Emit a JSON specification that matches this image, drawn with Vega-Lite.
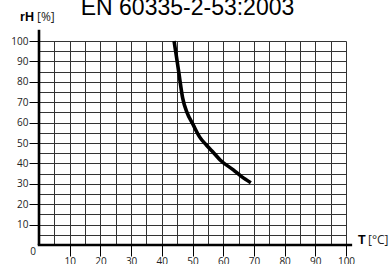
{
  "$schema": "https://vega.github.io/schema/vega-lite/v6.json",
  "autosize": {"type": "none"},
  "padding": {"left": 39, "top": 41, "right": 46, "bottom": 19},
  "width": 307,
  "height": 204,
  "background": "white",
  "config": {"view": {"stroke": null}},
  "resolve": {"axis": {"x": "independent", "y": "independent"}},
  "datasets": {
    "curve": [
      {"T": 44.0, "rH": 100},
      {"T": 45.5, "rH": 85},
      {"T": 46.8, "rH": 72},
      {"T": 48.2, "rH": 65},
      {"T": 50.2, "rH": 59},
      {"T": 52.3, "rH": 53},
      {"T": 54.5, "rH": 49},
      {"T": 57.0, "rH": 45},
      {"T": 59.0, "rH": 41.7},
      {"T": 63.3, "rH": 36.8},
      {"T": 66.0, "rH": 33.5},
      {"T": 69.0, "rH": 30.5}
    ]
  },
  "layer": [
    {
      "data": {"values": [{}]},
      "mark": {"type": "rule", "color": "black", "strokeWidth": 2.6},
      "encoding": {
        "x": {"datum": 0, "type": "quantitative", "scale": {"domain": [0, 100], "nice": false},
          "axis": {"orient": "bottom", "title": null, "values": [0,5,10,15,20,25,30,35,40,45,50,55,60,65,70,75,80,85,90,95,100],
            "grid": true, "gridColor": "#333", "gridWidth": 1, "gridOpacity": 1, "labels": false, "ticks": false, "domain": false}},
        "y": {"datum": 0, "type": "quantitative", "scale": {"domain": [0, 100], "nice": false},
          "axis": {"orient": "left", "title": null, "values": [0,5,10,15,20,25,30,35,40,45,50,55,60,65,70,75,80,85,90,95,100],
            "grid": true, "gridColor": "#333", "gridWidth": 1, "gridOpacity": 1, "labels": false, "ticks": false, "domain": false}},
        "y2": {"datum": 105.5}
      }
    },
    {
      "data": {"name": "curve"},
      "mark": {"type": "line", "color": "black", "strokeWidth": 3.6, "interpolate": "monotone", "strokeCap": "butt"},
      "encoding": {
        "x": {
          "field": "T", "type": "quantitative",
          "axis": {
            "orient": "bottom", "title": null,
            "values": [10,20,30,40,50,60,70,80,90,100],
            "grid": false, "domain": false,
            "tickColor": "black", "tickWidth": 1, "tickSize": 11,
            "labelFont": "Open Sans", "labelFontSize": 10, "labelColor": "#222",
            "labelPadding": 0, "labelFlush": false, "labelOverlap": false
          }
        },
        "y": {
          "field": "rH", "type": "quantitative",
          "axis": {
            "orient": "left", "title": null,
            "values": [10,20,30,40,50,60,70,80,90,100],
            "grid": false, "domain": false,
            "tickColor": "black", "tickWidth": 1, "tickSize": 10,
            "labelFont": "Open Sans", "labelFontSize": 10, "labelColor": "#222",
            "labelPadding": 1, "labelFlush": false, "labelOverlap": false
          }
        }
      }
    },
    {
      "data": {"values": [{}]},
      "mark": {"type": "rule", "color": "black", "strokeWidth": 2.6},
      "encoding": {"y": {"datum": 0, "type": "quantitative", "axis": null}, "x": {"datum": -0.4, "type": "quantitative", "axis": null}, "x2": {"datum": 102}}
    },
    {
      "data": {"values": [{}]},
      "mark": {"type": "text", "text": "EN 60335-2-53:2003", "font": "Liberation Sans", "fontSize": 23, "align": "center", "baseline": "alphabetic", "dx": -5, "dy": -26, "color": "black"},
      "encoding": {"x": {"datum": 50, "type": "quantitative", "axis": null}, "y": {"datum": 100, "type": "quantitative", "axis": null}}
    },
    {
      "data": {"values": [{}]},
      "mark": {"type": "text", "text": "rH", "font": "Liberation Sans", "fontWeight": "bold", "fontSize": 12.5, "align": "right", "baseline": "alphabetic", "dx": -5, "dy": -20, "color": "black"},
      "encoding": {"x": {"datum": 0, "type": "quantitative", "axis": null}, "y": {"datum": 100, "type": "quantitative", "axis": null}}
    },
    {
      "data": {"values": [{}]},
      "mark": {"type": "text", "text": "[%]", "font": "Open Sans", "fontSize": 12, "align": "left", "baseline": "alphabetic", "dx": -2, "dy": -20, "color": "#222"},
      "encoding": {"x": {"datum": 0, "type": "quantitative", "axis": null}, "y": {"datum": 100, "type": "quantitative", "axis": null}}
    },
    {
      "data": {"values": [{}]},
      "mark": {"type": "text", "text": "T", "font": "Liberation Sans", "fontWeight": "bold", "fontSize": 12.5, "align": "left", "baseline": "alphabetic", "dx": 12, "dy": -1, "color": "black"},
      "encoding": {"x": {"datum": 100, "type": "quantitative", "axis": null}, "y": {"datum": 0, "type": "quantitative", "axis": null}}
    },
    {
      "data": {"values": [{}]},
      "mark": {"type": "text", "text": "[°C]", "font": "Open Sans", "fontSize": 12, "align": "left", "baseline": "alphabetic", "dx": 22, "dy": -1, "color": "#222"},
      "encoding": {"x": {"datum": 100, "type": "quantitative", "axis": null}, "y": {"datum": 0, "type": "quantitative", "axis": null}}
    },
    {
      "data": {"values": [{}]},
      "mark": {"type": "text", "text": "0", "font": "Open Sans", "fontSize": 10, "align": "center", "baseline": "middle", "dx": -6, "dy": 7, "color": "#222"},
      "encoding": {"x": {"datum": 0, "type": "quantitative", "axis": null}, "y": {"datum": 0, "type": "quantitative", "axis": null}}
    }
  ]
}
